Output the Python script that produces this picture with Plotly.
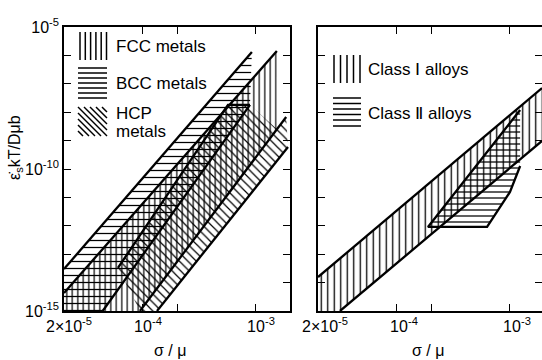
import numpy as np
import plotly.graph_objects as go

W, H = 542, 360
FONT = "Liberation Sans"

# ---------------- data ----------------
# normalized stress (sigma/mu) and normalized creep rate for the band corners
# Left panel
bcc_stress = [2.0e-5, 2.0e-5, 9.2e-4, 8.85e-4, 4.4e-5]
bcc_rate = [1.0e-15, 3.0e-14, 1.32e-6, 1.8e-8, 1.0e-15]

fcc_stress = [2.0e-5, 2.0e-5, 1.53e-3, 1.53e-3, 9.4e-5]
fcc_rate = [1.0e-15, 4.3e-15, 1.43e-6, 2.56e-9, 1.0e-15]

hcp_stress = [6.0e-5, 5.65e-4, 8.85e-4, 1.53e-3, 1.85e-3, 1.92e-3, 1.33e-4, 9.4e-5]
hcp_rate = [3.27e-14, 1.8e-8, 1.8e-8, 2.56e-9, 6.8e-9, 5.96e-10, 1.0e-15, 1.0e-15]

# Right panel
c1_stress = [2.0e-5, 2.0e-5, 1.92e-3, 1.92e-3, 3.13e-5]
c1_rate = [1.0e-15, 1.57e-14, 7.1e-8, 9.7e-10, 1.0e-15]

c2_stress = [1.88e-4, 1.23e-3, 1.23e-3, 1.0e-3, 6.27e-4]
c2_rate = [9.1e-13, 1.19e-8, 1.28e-10, 1.55e-11, 9.1e-13]

# boundary lines drawn heavy (stress pairs, rate pairs)
left_lines = [
    ([2.0e-5, 9.2e-4], [3.0e-14, 1.32e-6]),            # BCC upper
    ([4.4e-5, 8.85e-4], [1.0e-15, 1.8e-8]),            # BCC lower
    ([2.0e-5, 1.53e-3], [4.3e-15, 1.43e-6]),           # FCC upper
    ([9.4e-5, 1.85e-3], [1.0e-15, 6.8e-9]),            # FCC lower
    ([6.0e-5, 5.65e-4, 8.85e-4], [3.27e-14, 1.8e-8, 1.8e-8]),  # HCP upper
    ([1.33e-4, 1.92e-3], [1.0e-15, 5.96e-10]),         # HCP lower
]
right_lines = [
    ([2.0e-5, 1.92e-3], [1.57e-14, 7.1e-8]),           # Class I upper
    ([3.13e-5, 1.92e-3], [1.0e-15, 9.7e-10]),          # Class I lower
    ([1.23e-3, 1.88e-4, 6.27e-4, 1.0e-3, 1.23e-3],
     [1.19e-8, 9.1e-13, 9.1e-13, 1.55e-11, 1.28e-10]),  # Class II outline
]

x_tickvals = [2e-5, 1e-4, 2e-4, 1e-3]
x_ticktext = ["2\u00d710<sup>-5</sup>", "10<sup>-4</sup>", "", "10<sup>-3</sup>"]
y_tickvals = [10.0 ** k for k in range(-15, -4)]
y_ticktext = ["10<sup>-15</sup>", "", "", "", "", "10<sup>-10</sup>", "", "", "", "", "10<sup>-5</sup>"]

# ---------------- figure ----------------
fig = go.Figure()


def band(xs, ys, shape, size, sol, xa, ya):
    fig.add_trace(go.Scatter(
        x=xs + [xs[0]], y=ys + [ys[0]], mode="lines", fill="toself",
        line=dict(width=0, color="rgba(0,0,0,0)"), fillcolor="rgba(0,0,0,0)",
        fillpattern=dict(shape=shape, size=size, solidity=sol, fgcolor="black",
                         fgopacity=1, bgcolor="rgba(0,0,0,0)"),
        xaxis=xa, yaxis=ya, hoverinfo="skip", showlegend=False))


band(fcc_stress, fcc_rate, "|", 5.5, 0.22, "x", "y")
band(bcc_stress, bcc_rate, "-", 7, 0.18, "x", "y")
band(hcp_stress, hcp_rate, "\\", 6, 0.2, "x", "y")
band(c1_stress, c1_rate, "|", 6.5, 0.2, "x2", "y2")
band(c2_stress, c2_rate, "-", 6, 0.21, "x2", "y2")

for xs, ys in left_lines:
    fig.add_trace(go.Scatter(x=xs, y=ys, mode="lines", line=dict(color="black", width=2.3),
                             xaxis="x", yaxis="y", hoverinfo="skip", showlegend=False))
for xs, ys in right_lines:
    fig.add_trace(go.Scatter(x=xs, y=ys, mode="lines", line=dict(color="black", width=2.3),
                             xaxis="x2", yaxis="y2", hoverinfo="skip", showlegend=False))

lx0 = np.log10(2e-5)
ydom = [1 - 311 / H, 1 - 27 / H]
axis_common = dict(showline=True, linecolor="black", linewidth=1.6, mirror="ticks",
                   ticks="inside", ticklen=7, tickwidth=1.4, tickcolor="black",
                   showgrid=False, zeroline=False, fixedrange=True, automargin=False)

xax = dict(type="log", tickmode="array", tickvals=x_tickvals, ticktext=x_ticktext,
           tickfont=dict(family=FONT, size=16, color="black"), **axis_common)
yax = dict(type="log", range=[-15.0001, -4.9999], domain=ydom, tickmode="array",
           tickvals=y_tickvals, ticktext=y_ticktext,
           tickfont=dict(family=FONT, size=16, color="black"), **axis_common)

fig.update_layout(
    width=W, height=H, margin=dict(l=0, r=0, t=0, b=0, autoexpand=False),
    paper_bgcolor="white", plot_bgcolor="white",
    xaxis=dict(xax, domain=[64 / W, 290 / W], range=[lx0 - 1e-4, lx0 + 2], anchor="y",
               ticklabelshift=5),
    yaxis=dict(yax, anchor="x"),
    xaxis2=dict(xax, domain=[318 / W, 1.0], range=[lx0 - 1e-4, lx0 + 224 / 113], anchor="y2",
                ticklabelshift=7),
    yaxis2=dict(yax, anchor="x2", showticklabels=False),
    showlegend=False,
)


def px(X, Y):
    return X / W, 1 - Y / H


def seg(x0, y0, x1, y1, w=1.5):
    a, b = px(x0, y0)
    c, d = px(x1, y1)
    fig.add_shape(type="line", xref="paper", yref="paper", x0=a, y0=b, x1=c, y1=d,
                  line=dict(color="black", width=w))


# legend swatches, left panel
for X in [80, 85.3, 90.6, 95.9, 101.2, 106.5]:
    seg(X, 32, X, 60)
for Y in [68, 73, 78, 83, 88, 93, 98]:
    seg(78, Y, 107, Y)
bx0, bx1, by0, by1 = 78, 107, 107, 136
for c in range(-24, 30, 6):
    pts = []
    for X in (bx0, bx1):
        Y = by0 + (X - bx0) + c
        if by0 <= Y <= by1:
            pts.append((X, Y))
    for Y in (by0, by1):
        X = bx0 + (Y - by0) - c
        if bx0 <= X <= bx1:
            pts.append((X, Y))
    pts = sorted(set(pts))
    if len(pts) >= 2:
        seg(pts[0][0], pts[0][1], pts[-1][0], pts[-1][1])

# legend swatches, right panel
for X in [334, 340.5, 347, 353.5, 360]:
    seg(X, 55, X, 83)
for Y in [98, 103.5, 109, 114.5, 120, 126]:
    seg(333, Y, 361, Y)


def text(X, Y, s, size=17, anchor="left", angle=0):
    a, b = px(X, Y)
    fig.add_annotation(x=a, y=b, xref="paper", yref="paper", text=s, showarrow=False,
                       xanchor=anchor, yanchor="middle", textangle=angle,
                       font=dict(family=FONT, size=size, color="black"))


text(114, 46, "FCC metals")
text(114, 83, "BCC metals")
text(114, 113, "HCP")
text(114, 131, "metals")
text(366, 70, "Class \u2160 alloys")
text(366, 113, "Class \u2161 alloys")

text(170, 350, "\u03c3 / \u03bc", size=16, anchor="center")
text(428, 350, "\u03c3 / \u03bc", size=16, anchor="center")
text(15, 148, "\u03b5\u0307<sub>s</sub>kT/D\u03bcb", size=16, anchor="center", angle=-90)

fig.write_html("out.html")
